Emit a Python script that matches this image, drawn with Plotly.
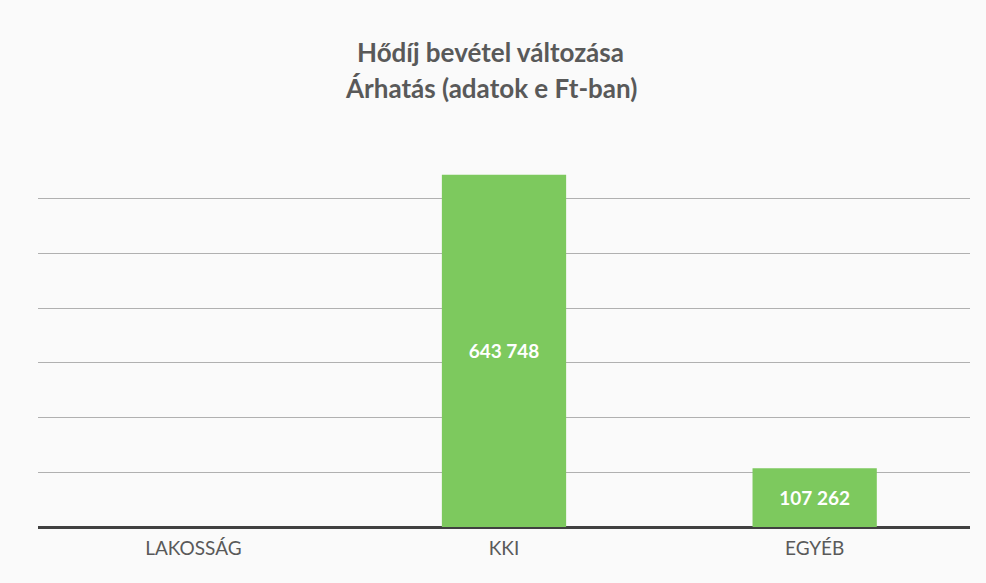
import plotly.graph_objects as go

categories = ["LAKOSSÁG", "KKI", "EGYÉB"]
values = [0, 643748, 107262]
title_lines = ["Hődíj bevétel változása", "Árhatás (adatok e Ft-ban)"]

FONT = "Lato, Open Sans, sans-serif"

fig = go.Figure(go.Bar(
    x=categories, y=values,
    marker=dict(color="#7dc95e", line=dict(width=0)),
    texttemplate="%{y:,}",
    textposition="inside", insidetextanchor="middle",
    textfont=dict(family=FONT, size=19, color="white", weight="bold"),
    cliponaxis=False,
))

# title lines as annotations (paper coords relative to plot area)
title_y = [1.240, 1.146]
for txt, yy in zip(title_lines, title_y):
    fig.add_annotation(text="<b>" + txt + "</b>", xref="paper", yref="paper",
                       x=0.486, y=yy, xanchor="center", yanchor="middle",
                       showarrow=False,
                       font=dict(family=FONT, size=26, color="#595959"))

fig.update_layout(
    width=986, height=583,
    margin=dict(l=38, r=16, t=144, b=56),
    paper_bgcolor="#fafafa", plot_bgcolor="#fafafa",
    separators=", ",
    bargap=0.6,
    showlegend=False,
    xaxis=dict(showgrid=False, showline=False, ticks="", ticklabelstandoff=8,
               tickfont=dict(family=FONT, size=19, color="#595959")),
    yaxis=dict(range=[0, 700000], dtick=100000, showticklabels=False,
               showgrid=True, gridcolor="#b0b0b0", gridwidth=1,
               zeroline=True, zerolinecolor="#404040", zerolinewidth=2.5),
)

fig.write_html("out.html", config={"displayModeBar": False},
               post_script="document.body.style.margin='0';")
